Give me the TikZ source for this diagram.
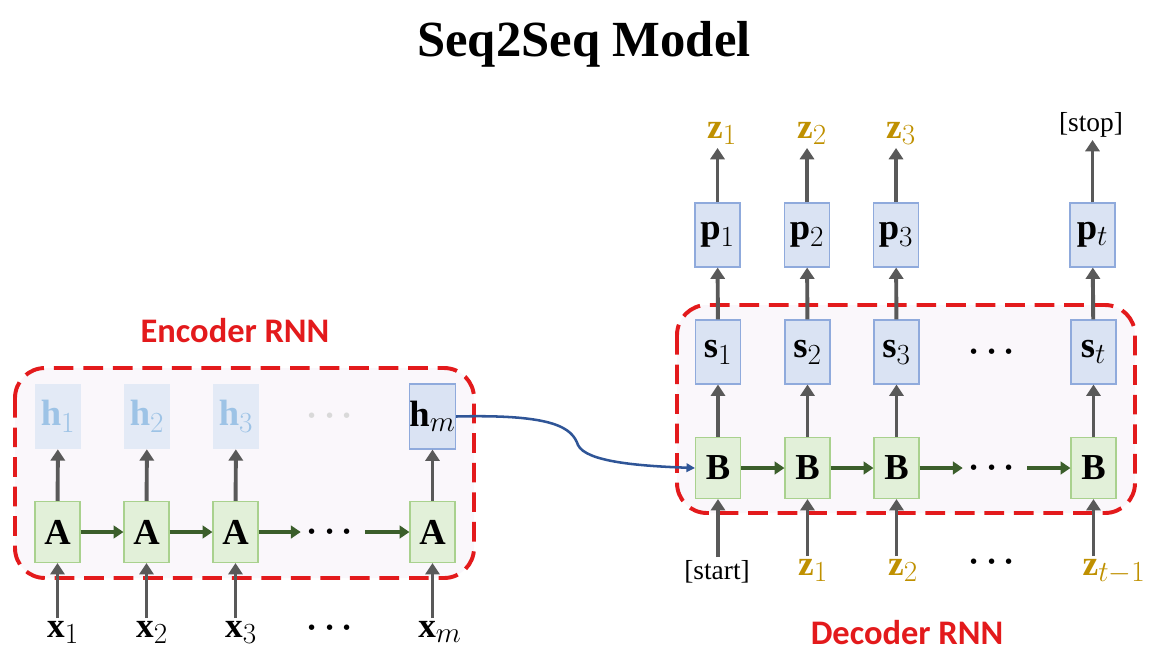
\documentclass[tikz,border=0pt]{standalone}
\usepackage{amsmath}
\usepackage{fontspec}
\setmainfont{Liberation Serif}
\newfontfamily\tagfont{Carlito}
\usetikzlibrary{arrows.meta}
\DeclareMathSizes{26}{26}{20}{15}
\DeclareMathSizes{25}{25}{19.5}{14.5}

\definecolor{cellgreen}{HTML}{E2F0D9}
\definecolor{edgegreen}{HTML}{A9D18E}
\definecolor{cellblue}{HTML}{DAE3F3}
\definecolor{edgeblue}{HTML}{8FAADC}
\definecolor{fadeblue}{HTML}{9DC3E6}
\definecolor{arrgray}{HTML}{595959}
\definecolor{arrgreen}{HTML}{3B5E2B}
\definecolor{rnnred}{HTML}{E31A1C}
\definecolor{rnnfill}{HTML}{FAF7FB}
\definecolor{tokgold}{HTML}{BF9000}
\definecolor{linkblue}{HTML}{2F5597}

\newcommand{\bigdots}{$\boldsymbol{\cdots}$}

\tikzset{
  cell/.style={minimum width=1.125cm, minimum height=1.525cm, inner sep=0pt,
    font=\fontsize{26}{30}\selectfont},
  ablock/.style={cell, fill=cellgreen, draw=edgegreen, line width=0.8pt},
  hblock/.style={cell, minimum height=1.625cm, fill=cellblue, draw=edgeblue, line width=0.8pt},
  hfaded/.style={cell, minimum height=1.625cm, fill=cellblue!75, text=fadeblue},
  sblock/.style={cell, minimum height=1.6cm, fill=cellblue, draw=edgeblue, line width=0.8pt},
  up/.style={draw=arrgray, line width=2.8pt, -{Triangle[width=10pt,length=8pt]}},
  chain/.style={draw=arrgreen, line width=2.6pt, -{Triangle[width=9pt,length=7pt]}},
  rnnbox/.style={draw=rnnred, line width=2.8pt, dash pattern=on 14pt off 7pt,
    rounded corners=0.75cm, fill=rnnfill},
  word/.style={inner sep=2pt, font=\fontsize{25}{28}\selectfont},
  gap/.style={word, minimum width=1.6cm},
  tok/.style={word, text=tokgold},
  bracket/.style={word, font=\fontsize{19.5}{22}\selectfont},
  rnnlabel/.style={text=rnnred, font=\tagfont\bfseries\fontsize{24.5}{28}\selectfont},
}

\begin{document}
\begin{tikzpicture}[x=0.025cm, y=-0.025cm]
    \useasboundingbox (0,0) rectangle (1154,666);

    \node (title) at (584,44) {\fontsize{36}{42}\selectfont\bfseries Seq2Seq Model};

    % encoder
    \draw[rnnbox] (15,368) rectangle (474,578);
    \node[rnnlabel] (enclabel) at (235,331) {Encoder RNN};

    \node[ablock] (A1) at (57.5,532) {$\mathbf{A}$};
    \node[ablock] (A2) at (146.5,532) {$\mathbf{A}$};
    \node[ablock] (A3) at (235.5,532) {$\mathbf{A}$};
    \node[gap] (Adots) at (333,532) {\bigdots};
    \node[ablock] (Am) at (432.5,532) {$\mathbf{A}$};

    \node[hfaded] (h1) at (58,416.5) {$\mathbf{h}_1$};
    \node[hfaded] (h2) at (147,416.5) {$\mathbf{h}_2$};
    \node[hfaded] (h3) at (236,416.5) {$\mathbf{h}_3$};
    \node[word, text=black!15] (hdots) at (333,416.5) {\bigdots};
    \node[hblock] (hm) at (432.5,416.5) {$\mathbf{h}_m$};

    \node[word, anchor=north] (x1) at (63,618) {$\mathbf{x}_1$};
    \node[word, anchor=north] (x2) at (152,618) {$\mathbf{x}_2$};
    \node[word, anchor=north] (x3) at (241,618) {$\mathbf{x}_3$};
    \node[word] (xdots) at (333,628) {\bigdots};
    \node[word, anchor=north] (xm) at (440,618) {$\mathbf{x}_m$};

    \draw[up] (x1.north -| A1) -- (A1);
    \draw[up] (x2.north -| A2) -- (A2);
    \draw[up] (x3.north -| A3) -- (A3);
    \draw[up] (xm.north -| Am) -- (Am);

    \draw[up] (A1) -- (h1);
    \draw[up] (A2) -- (h2);
    \draw[up] (A3) -- (h3);
    \draw[up] (Am) -- (hm);

    \draw[chain] (A1) -- (A2);
    \draw[chain] (A2) -- (A3);
    \draw[chain] (A3) -- (Adots);
    \draw[chain] (Adots) -- (Am);

    % decoder
    \draw[rnnbox] (677,305) rectangle (1135,513);
    \node[rnnlabel] (declabel) at (907,633) {Decoder RNN};

    \node[ablock] (B1) at (718,468) {$\mathbf{B}$};
    \node[ablock] (B2) at (807.5,468) {$\mathbf{B}$};
    \node[ablock] (B3) at (896.5,468) {$\mathbf{B}$};
    \node[gap] (Bdots) at (995,468) {\bigdots};
    \node[ablock] (Bt) at (1093.5,468) {$\mathbf{B}$};

    \node[sblock] (s1) at (718,352) {$\mathbf{s}_1$};
    \node[sblock] (s2) at (807.5,352) {$\mathbf{s}_2$};
    \node[sblock] (s3) at (896.5,352) {$\mathbf{s}_3$};
    \node[word] (sdots) at (995,352) {\bigdots};
    \node[sblock] (st) at (1093.5,352) {$\mathbf{s}_t$};

    \node[sblock] (p1) at (717.5,235) {$\mathbf{p}_1$};
    \node[sblock] (p2) at (807,235) {$\mathbf{p}_2$};
    \node[sblock] (p3) at (896,235) {$\mathbf{p}_3$};
    \node[sblock] (pt) at (1092.5,235) {$\mathbf{p}_t$};

    \node[tok, anchor=south] (z1) at (722,148) {$\mathbf{z}_1$};
    \node[tok, anchor=south] (z2) at (812,148) {$\mathbf{z}_2$};
    \node[tok, anchor=south] (z3) at (901,148) {$\mathbf{z}_3$};
    \node[bracket, anchor=south] (stop) at (1091,140) {[stop]};

    \node[bracket, anchor=north] (start) at (717,557) {[start]};
    \node[tok, anchor=north] (in1) at (813,556) {$\mathbf{z}_1$};
    \node[tok, anchor=north] (in2) at (903,556) {$\mathbf{z}_2$};
    \node[word] (indots) at (995,562) {\bigdots};
    \node[tok, anchor=north] (intm) at (1114,556) {$\mathbf{z}_{t-1}$};

    \draw[up] (start.north -| B1) -- (B1);
    \draw[up] (in1.north -| B2) -- (B2);
    \draw[up] (in2.north -| B3) -- (B3);
    \draw[up] (intm.north -| Bt) -- (Bt);

    \draw[up] (B1) -- (s1);
    \draw[up] (B2) -- (s2);
    \draw[up] (B3) -- (s3);
    \draw[up] (Bt) -- (st);

    \draw[up] (s1) -- (p1);
    \draw[up] (s2) -- (p2);
    \draw[up] (s3) -- (p3);
    \draw[up] (st) -- (pt);

    \draw[up] (p1) -- (z1.south -| p1);
    \draw[up] (p2) -- (z2.south -| p2);
    \draw[up] (p3) -- (z3.south -| p3);
    \draw[up] (pt) -- (stop.south -| pt);

    \draw[chain] (B1) -- (B2);
    \draw[chain] (B2) -- (B3);
    \draw[chain] (B3) -- (Bdots);
    \draw[chain] (Bdots) -- (Bt);

    % context handed over
    \draw[linkblue, line width=1.8pt, -{Triangle[width=6pt,length=6pt]}]
        (hm.east) .. controls (555,414) and (572,428) .. (578,445)
        .. controls (586,462) and (640,466) .. (B1.west);
\end{tikzpicture}
\end{document}
